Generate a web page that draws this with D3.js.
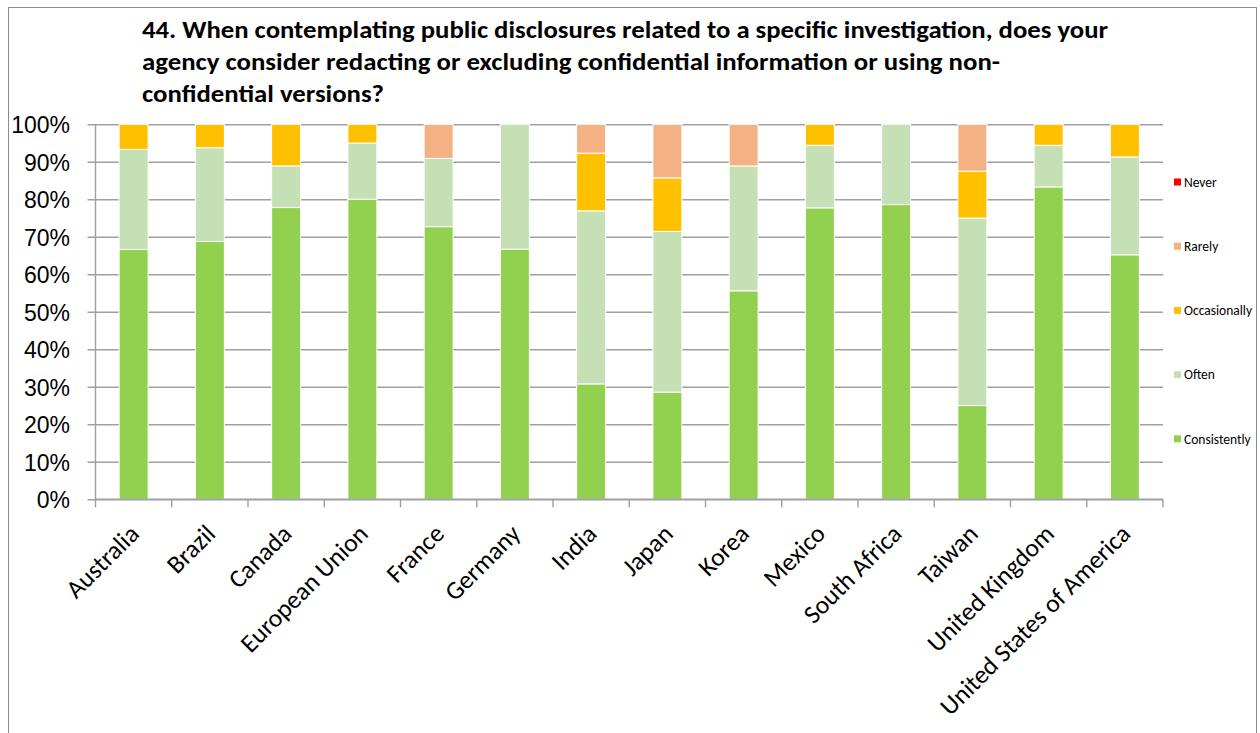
<!DOCTYPE html>
<html>
<head>
<meta charset="utf-8">
<script src="https://cdn.jsdelivr.net/npm/d3@7"></script>
<style>
  html, body { margin: 0; padding: 0; background: #fff; }
  svg { display: block; font-family: Carlito, "Liberation Sans", Arial, sans-serif; }
</style>
</head>
<body>
<svg id="chart" width="1260" height="733"></svg>
<script>
// ---- data ----
const categories = ["Australia","Brazil","Canada","European Union","France","Germany","India","Japan","Korea","Mexico","South Africa","Taiwan","United Kingdom","United States of America"];
const seriesNames = ["Consistently","Often","Occasionally","Rarely","Never"];
const consistently = [66.7, 68.75, 77.8, 80, 72.7, 66.7, 30.8, 28.6, 55.6, 77.8, 78.6, 25, 83.3, 65.2];
const often        = [26.7, 25,    11.1, 15, 18.2, 33.3, 46.2, 42.9, 33.3, 16.7, 21.4, 50, 11.1, 26.1];
const occasionally = [6.7,  6.25,  11.1, 5,  0,    0,    15.4, 14.3, 0,    5.6,  0,    12.5, 5.6, 8.7];
const rarely       = [0,    0,     0,    0,  9.1,  0,    7.7,  14.3, 11.1, 0,    0,    12.5, 0,   0];
const never        = [0,    0,     0,    0,  0,    0,    0,    0,    0,    0,    0,    0,    0,   0];
const yTicks = [0,10,20,30,40,50,60,70,80,90,100];
const titleLines = [
  "44. When contemplating public disclosures related to a specific investigation, does your",
  "agency consider redacting or excluding confidential information or using non-",
  "confidential versions?"
];
const colors = {Consistently:"#92D050", Often:"#C5E0B4", Occasionally:"#FFC000", Rarely:"#F4B183", Never:"#FF0000"};
const legendOrder = ["Never","Rarely","Occasionally","Often","Consistently"];

(function(){
// ---- build table ----
const valuesBySeries = {Consistently:consistently, Often:often, Occasionally:occasionally, Rarely:rarely, Never:never};
const table = categories.map((c,i) => {
  const row = {category:c};
  seriesNames.forEach(s => row[s] = valuesBySeries[s][i]);
  return row;
});
const stacked = d3.stack().keys(seriesNames).offset(d3.stackOffsetExpand)(table);

const svg = d3.select("#chart");
const pLeft = 95.5, pRight = 1163, pTop = 124.3, pBottom = 499.3;

// outer border
svg.append("rect").attr("x",8.5).attr("y",7.5).attr("width",1248).attr("height",760)
  .attr("fill","none").attr("stroke","#8c8c8c").attr("stroke-width",1);

const x = d3.scaleBand().domain(categories).range([pLeft,pRight]).paddingInner(0.62).paddingOuter(0.31);
const y = d3.scaleLinear().domain([0,1]).range([pBottom,pTop]);

// gridlines + y ticks
const yAxis = d3.axisLeft(y).tickValues(yTicks.map(v=>v/100)).tickFormat(d=>Math.round(d*100)+"%")
  .tickSize(-(pRight-pLeft)).tickPadding(25.5);
const gy = svg.append("g").attr("transform",`translate(${pLeft},0)`).call(yAxis);
gy.select(".domain").remove();
gy.selectAll(".tick line").attr("x1",-8).attr("stroke","#a0a0a0").attr("stroke-width",1.4);
gy.selectAll(".tick text").attr("font-size",23).attr("fill","#000").attr("dy","0.36em");
svg.append("line").attr("x1",pLeft).attr("x2",pLeft).attr("y1",pTop).attr("y2",pBottom)
  .attr("stroke","#a0a0a0").attr("stroke-width",1.4);

// bars
svg.append("g").selectAll("g").data(stacked).join("g")
  .attr("fill", d => colors[d.key])
  .selectAll("rect").data(d => d).join("rect")
  .attr("x", d => x(d.data.category))
  .attr("width", x.bandwidth())
  .attr("y", d => y(d[1]))
  .attr("height", d => Math.max(0, y(d[0]) - y(d[1])))
  .attr("stroke", d => (d[1]-d[0])>0 ? "#fff" : "none")
  .attr("stroke-width", 1);

// x axis
const gx = svg.append("g").attr("transform",`translate(0,${pBottom})`);
gx.append("line").attr("x1",pLeft).attr("x2",pRight).attr("stroke","#a0a0a0").attr("stroke-width",1.4);
const boundaries = d3.range(categories.length+1).map(i => pLeft + i*x.step());
gx.selectAll("line.tk").data(boundaries).join("line").attr("class","tk")
  .attr("x1",d=>d).attr("x2",d=>d).attr("y1",0).attr("y2",8)
  .attr("stroke","#a0a0a0").attr("stroke-width",1.4);
gx.selectAll("text").data(categories).join("text")
  .attr("transform", d => `translate(${x(d)+x.bandwidth()/2+7},${36}) rotate(-45)`)
  .attr("text-anchor","end")
  .attr("font-size",25.5)
  .attr("fill","#000")
  .text(d=>d);

// title
svg.append("g").selectAll("text").data(titleLines).join("text")
  .attr("x",142).attr("y",(d,i)=>37.5+i*32.3)
  .attr("font-size",24).attr("font-weight","bold").attr("fill","#000")
  .text(d=>d)
  .attr("textLength",(d,i)=>[966, 858, 242][i])
  .attr("lengthAdjust","spacingAndGlyphs");

// legend
const lg = svg.append("g").selectAll("g").data(legendOrder).join("g")
  .attr("transform",(d,i)=>`translate(1174,${182 + i*64.2})`);
lg.append("rect").attr("x",0).attr("y",-3.5).attr("width",7).attr("height",7).attr("fill",d=>colors[d]);
lg.append("text").attr("x",10).attr("y",0).attr("dy","0.35em").attr("font-size",13.5).attr("fill","#000").text(d=>d);
})();
</script>
</body>
</html>
